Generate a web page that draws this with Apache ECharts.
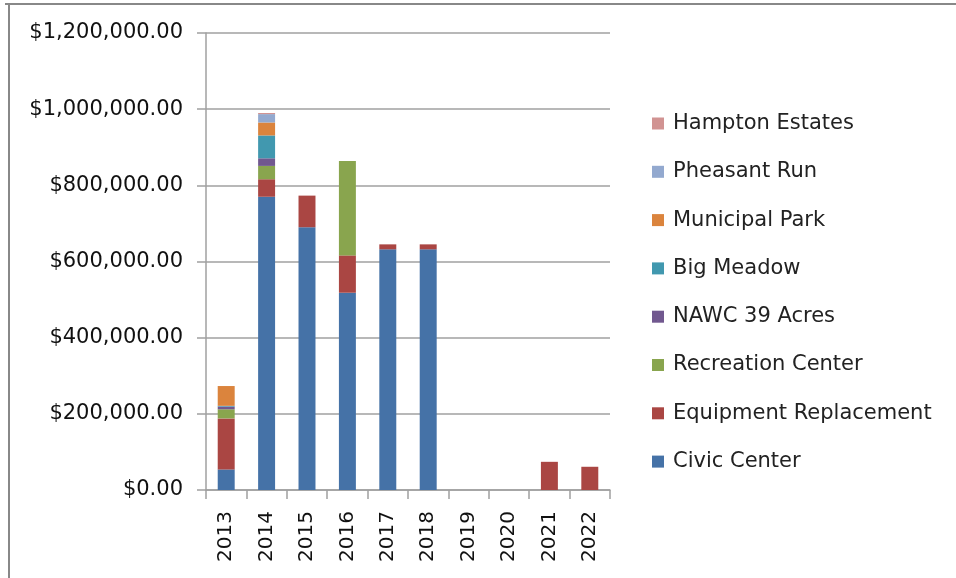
<!DOCTYPE html>
<html>
<head>
<meta charset="utf-8">
<script src="https://cdn.jsdelivr.net/npm/echarts@6/dist/echarts.min.js"></script>
<style>
html,body{margin:0;padding:0;background:#fff;}
#c{width:956px;height:578px;}
</style>
</head>
<body>
<div id="c"></div>
<script>
const years = ['2013','2014','2015','2016','2017','2018','2019','2020','2021','2022'];
const civicCenter = [54000, 770000, 690000, 518000, 632000, 632000, 0, 0, 0, 0];
const equipmentReplacement = [134000, 46000, 83000, 98000, 13000, 13000, 0, 0, 74000, 61000];
const recreationCenter = [24000, 35000, 0, 248000, 0, 0, 0, 0, 0, 0];
const nawc39Acres = [7000, 20000, 0, 0, 0, 0, 0, 0, 0, 0];
const bigMeadow = [2000, 60000, 0, 0, 0, 0, 0, 0, 0, 0];
const municipalPark = [52000, 34000, 0, 0, 0, 0, 0, 0, 0, 0];
const pheasantRun = [0, 22000, 0, 0, 0, 0, 0, 0, 0, 0];
const hamptonEstates = [0, 3000, 0, 0, 0, 0, 0, 0, 0, 0];
const yTicks = [0, 200000, 400000, 600000, 800000, 1000000, 1200000];

const seriesDefs = [
  ['Civic Center', civicCenter, '#4572A7'],
  ['Equipment Replacement', equipmentReplacement, '#AA4643'],
  ['Recreation Center', recreationCenter, '#89A54E'],
  ['NAWC 39 Acres', nawc39Acres, '#71588F'],
  ['Big Meadow', bigMeadow, '#4198AF'],
  ['Municipal Park', municipalPark, '#DB843D'],
  ['Pheasant Run', pheasantRun, '#93A9CF'],
  ['Hampton Estates', hamptonEstates, '#D19392']
];

const font = '"DejaVu Sans", sans-serif';
const chart = echarts.init(document.getElementById('c'), null, {renderer:'canvas'});
const legendNames = seriesDefs.map(s => s[0]).reverse();

function fmt(v){
  return '$' + v.toLocaleString('en-US', {minimumFractionDigits:2, maximumFractionDigits:2});
}

chart.setOption({
  animation:false,
  backgroundColor:'#fff',
  grid:{left:206, top:33, width:404, height:457, containLabel:false},
  legend:{
    orient:'vertical', left:647, top:108,
    data: legendNames,
    itemWidth:12, itemHeight:12, itemGap:27.3,
    icon:'rect',
    textStyle:{fontFamily:font, fontSize:21, lineHeight:20, color:'#222', padding:[0,0,0,4]}
  },
  xAxis:{
    type:'category', data:years, boundaryGap:true,
    axisLine:{lineStyle:{color:'#a0a0a0', width:1.5}},
    axisTick:{show:true, length:9, alignWithLabel:false, lineStyle:{color:'#a0a0a0', width:1.5}},
    axisLabel:{rotate:90, fontFamily:font, fontSize:20, color:'#111', margin:21}
  },
  yAxis:{
    type:'value', min:0, max:1200000, interval:200000,
    axisLine:{show:true, lineStyle:{color:'#a0a0a0', width:1.5}},
    axisTick:{show:true, length:9, lineStyle:{color:'#a0a0a0', width:1.5}},
    splitLine:{lineStyle:{color:'#a0a0a0', width:1.5}},
    axisLabel:{fontFamily:font, fontSize:21, color:'#111', margin:23, formatter:fmt}
  },
  series: seriesDefs.map(([name, data, color]) => ({
    name, type:'bar', stack:'total', barWidth:'42%',
    data: data.map(v => v === 0 ? null : v),
    itemStyle:{color}
  })),
  graphic:[
    {type:'line', shape:{x1:5, y1:4, x2:956, y2:4}, style:{stroke:'#888', lineWidth:2}},
    {type:'line', shape:{x1:9, y1:4, x2:9, y2:578}, style:{stroke:'#888', lineWidth:2}}
  ]
});
</script>
</body>
</html>
